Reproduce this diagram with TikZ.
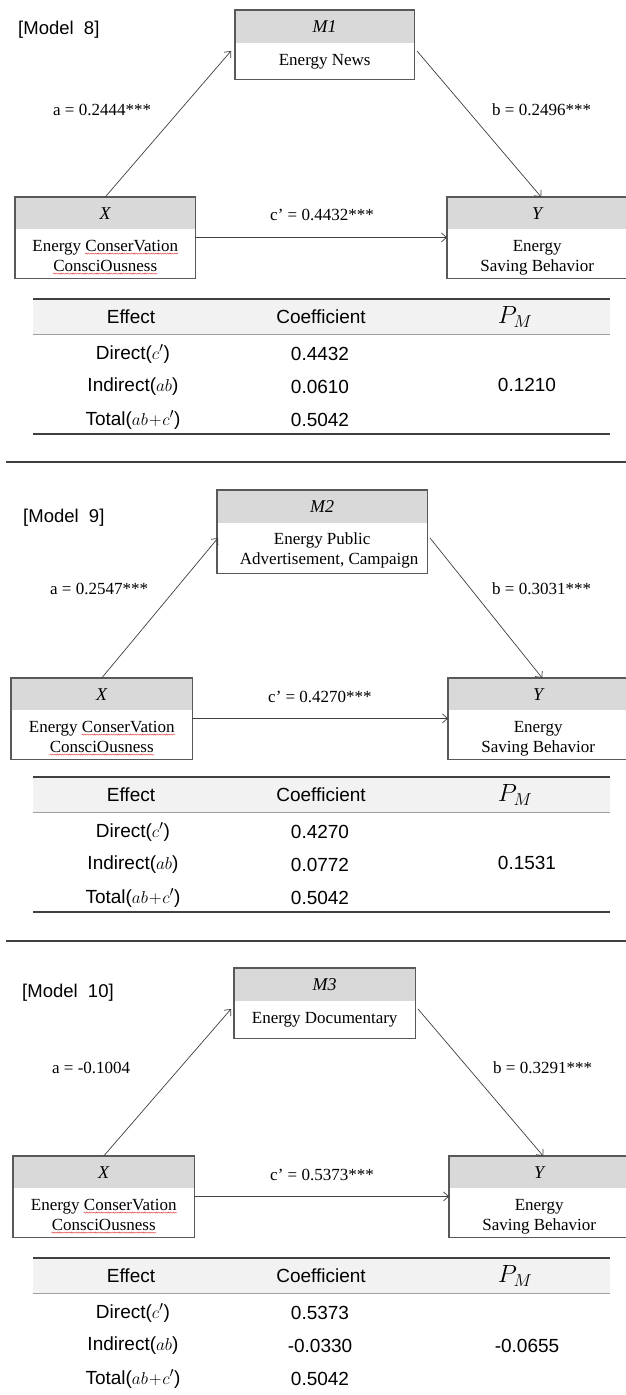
\documentclass[tikz,border=0pt]{standalone}
\usepackage[no-math]{fontspec}
\setmainfont{Liberation Serif}
\newfontfamily\sansf{Liberation Sans}
\usetikzlibrary{arrows.meta,calc,decorations.pathmorphing}
\definecolor{headgray}{HTML}{D9D9D9}
\definecolor{boxgray}{HTML}{595959}
\definecolor{arrowgray}{HTML}{404040}
\definecolor{tabhead}{HTML}{F2F2F2}
\definecolor{ruledark}{HTML}{404040}
\definecolor{rulemid}{HTML}{A0A0A0}
\definecolor{squigred}{HTML}{E03030}
% X box: name, x, y, width
\newcommand\mkxbox[4]{%
  \node[boxhead,minimum width=#4pt,minimum height=32pt] (#1h) at (#2,#3) {X};
  \node[boxbody,minimum width=#4pt,minimum height=49pt] (#1b) at (#1h.south west) {};
  \draw[boxline] (#1h.north west) rectangle (#1b.south east);
  \node[linetext] (#1l1) at ($(#1b.north)+(0,22)$) {Energy ConserVation};
  \node[linetext] (#1l2) at ($(#1b.north)+(0,42)$) {ConsciOusness};
  \node[linetext,anchor=base east] (#1w) at (#1l1.base east) {\phantom{ConserVation}};
  \draw[squig] ([yshift=-2.2pt]#1w.base west) -- ([yshift=-2.2pt]#1w.base east);
  \draw[squig] ([yshift=-2.2pt]#1l2.base west) -- ([yshift=-2.2pt]#1l2.base east);
}
% Y box: name, x, y, width
\newcommand\mkybox[4]{%
  \node[boxhead,minimum width=#4pt,minimum height=32pt] (#1h) at (#2,#3) {Y};
  \node[boxbody,minimum width=#4pt,minimum height=49pt] (#1b) at (#1h.south west) {};
  \draw[boxline] (#1h.north west) rectangle (#1b.south east);
  \node[linetext] (#1l1) at ($(#1b.north)+(0,22)$) {Energy};
  \node[linetext] (#1l2) at ($(#1b.north)+(0,42)$) {Saving Behavior};
}
\begin{document}
\begin{tikzpicture}[x=1pt,y=-1pt,
  tag/.style={anchor=west,inner sep=0pt,font=\sansf\fontsize{18.5}{21}\selectfont},
  boxhead/.style={fill=headgray,inner sep=0pt,anchor=north west,font=\fontsize{18}{20}\selectfont\itshape},
  boxbody/.style={inner sep=0pt,anchor=north west,align=center,font=\fontsize{17}{20}\selectfont},
  linetext/.style={inner sep=0pt,anchor=base,font=\fontsize{17}{20}\selectfont},
  squig/.style={draw=squigred,line width=0.4pt,decorate,decoration={snake,amplitude=0.6pt,segment length=2.4pt}},
  boxline/.style={draw=boxgray,line width=1.1pt},
  arr/.style={draw=arrowgray,line width=0.7pt,-{Straight Barb[length=5pt,width=9pt]}},
  lab/.style={anchor=west,inner sep=0pt,font=\fontsize{17}{20}\selectfont},
  tcell/.style={inner sep=0pt,font=\sansf\fontsize{19}{22}\selectfont},
  pm/.style={inner sep=0pt,font=\fontsize{25}{27}\selectfont},
  toprule/.style={draw=ruledark,line width=2pt},
  midrule/.style={draw=rulemid,line width=1pt},
  botrule/.style={draw=ruledark,line width=1.5pt},
  sep/.style={draw=ruledark,line width=2.5pt}
]
\fill[white] (0,0) rectangle (626,1395);
\useasboundingbox (0,0) rectangle (626,1395);

% ================= Model 8 =================
\node[tag] (t8) at (18,30) {[Model\ \ 8]};
\node[boxhead,minimum width=179pt,minimum height=33pt] (m8h) at (235,10) {M1};
\node[boxbody,minimum width=179pt,minimum height=36pt] (m8b) at (m8h.south west) {Energy News};
\draw[boxline] (m8h.north west) rectangle (m8b.south east);
\mkxbox{x8}{15}{197}{180}
\mkybox{y8}{447}{197}{180}

\coordinate (a8e) at (231,51);
\coordinate (b8s) at (417,51);
\draw[arr] (x8h.north) -- (a8e);
\draw[arr] (b8s) -- ([xshift=4pt]y8h.north);
\draw[arr] ([yshift=-8pt]x8b.north east) -- ([yshift=-8pt]y8b.north west);

\node[lab] (la8) at (53,110) {a = 0.2444***};
\node[lab] (lb8) at (492,110) {b = 0.2496***};
\node[lab] (lc8) at (270,215) {c’ = 0.4432***};

% table 8 (T=299)
\fill[tabhead] (33,299) rectangle (610,334);
\draw[toprule] (33,299) -- (610,299);
\draw[midrule] (33,334) -- (610,334);
\draw[botrule] (33,434) -- (610,434);
\node[tcell] (e8) at (131,317) {Effect};
\node[tcell] (c8) at (321,317) {Coefficient};
\node[pm] (p8) at (515,317) {$P_M$};
\node[tcell] (d8) at (133,354) {Direct($c'$)};
\node[tcell] (i8) at (133,387) {Indirect($ab$)};
\node[tcell] (s8) at (133,420) {Total($ab\!+\!c'$)};
\node[tcell] (dv8) at (320,354) {0.4432};
\node[tcell] (iv8) at (320,387) {0.0610};
\node[tcell] (sv8) at (320,420) {0.5042};
\node[tcell] (pv8) at (527,385) {0.1210};

\draw[sep] (6,462) -- (626,462);

% ================= Model 9 =================
\node[tag] (t9) at (23,518) {[Model\ \ 9]};
\node[boxhead,minimum width=210pt,minimum height=33pt] (m9h) at (217,490) {M2};
\node[boxbody,minimum width=210pt,minimum height=50pt] (m9b) at (m9h.south west) {};
\draw[boxline] (m9h.north west) rectangle (m9b.south east);
\node[linetext] (m9l1) at ($(m9b.north)+(0,21)$) {Energy Public};
\node[linetext] (m9l2) at ($(m9b.north)+(7,41)$) {Advertisement, Campaign};
\mkxbox{x9}{11}{678}{181}
\mkybox{y9}{448}{678}{180}

\coordinate (a9e) at (218,538);
\coordinate (b9s) at (430,538);
\draw[arr] (x9h.north) -- (a9e);
\draw[arr] (b9s) -- ([xshift=4pt]y9h.north);
\draw[arr] ([yshift=-8pt]x9b.north east) -- ([yshift=-8pt]y9b.north west);

\node[lab] (la9) at (50,589) {a = 0.2547***};
\node[lab] (lb9) at (492,589) {b = 0.3031***};
\node[lab] (lc9) at (268,697) {c’ = 0.4270***};

% table 9 (T=777)
\fill[tabhead] (33,777) rectangle (610,812);
\draw[toprule] (33,777) -- (610,777);
\draw[midrule] (33,812) -- (610,812);
\draw[botrule] (33,912) -- (610,912);
\node[tcell] (e9) at (131,795) {Effect};
\node[tcell] (c9) at (321,795) {Coefficient};
\node[pm] (p9) at (515,795) {$P_M$};
\node[tcell] (d9) at (133,832) {Direct($c'$)};
\node[tcell] (i9) at (133,865) {Indirect($ab$)};
\node[tcell] (s9) at (133,898) {Total($ab\!+\!c'$)};
\node[tcell] (dv9) at (320,832) {0.4270};
\node[tcell] (iv9) at (320,865) {0.0772};
\node[tcell] (sv9) at (320,898) {0.5042};
\node[tcell] (pv9) at (527,863) {0.1531};

\draw[sep] (6,941) -- (626,941);

% ================= Model 10 =================
\node[tag] (t10) at (22,993) {[Model\ \ 10]};
\node[boxhead,minimum width=181pt,minimum height=33pt] (m10h) at (234,968) {M3};
\node[boxbody,minimum width=181pt,minimum height=37pt] (m10b) at (m10h.south west) {Energy Documentary};
\draw[boxline] (m10h.north west) rectangle (m10b.south east);
\mkxbox{x10}{13}{1156}{181}
\mkybox{y10}{449}{1156}{180}

\coordinate (a10e) at (231,1009);
\coordinate (b10s) at (418,1009);
\draw[arr] (x10h.north) -- (a10e);
\draw[arr] (b10s) -- ([xshift=4pt]y10h.north);
\draw[arr] ([yshift=-8pt]x10b.north east) -- ([yshift=-8pt]y10b.north west);

\node[lab] (la10) at (52,1068) {a = -0.1004};
\node[lab] (lb10) at (493,1068) {b = 0.3291***};
\node[lab] (lc10) at (270,1175) {c’ = 0.5373***};

% table 10 (T=1258)
\fill[tabhead] (33,1258) rectangle (610,1293);
\draw[toprule] (33,1258) -- (610,1258);
\draw[midrule] (33,1293) -- (610,1293);
\node[tcell] (e10) at (131,1276) {Effect};
\node[tcell] (c10) at (321,1276) {Coefficient};
\node[pm] (p10) at (515,1276) {$P_M$};
\node[tcell] (d10) at (133,1313) {Direct($c'$)};
\node[tcell] (i10) at (133,1346) {Indirect($ab$)};
\node[tcell] (s10) at (133,1379) {Total($ab\!+\!c'$)};
\node[tcell] (dv10) at (320,1313) {0.5373};
\node[tcell] (iv10) at (320,1346) {-0.0330};
\node[tcell] (sv10) at (320,1379) {0.5042};
\node[tcell] (pv10) at (527,1346) {-0.0655};
\end{tikzpicture}
\end{document}
